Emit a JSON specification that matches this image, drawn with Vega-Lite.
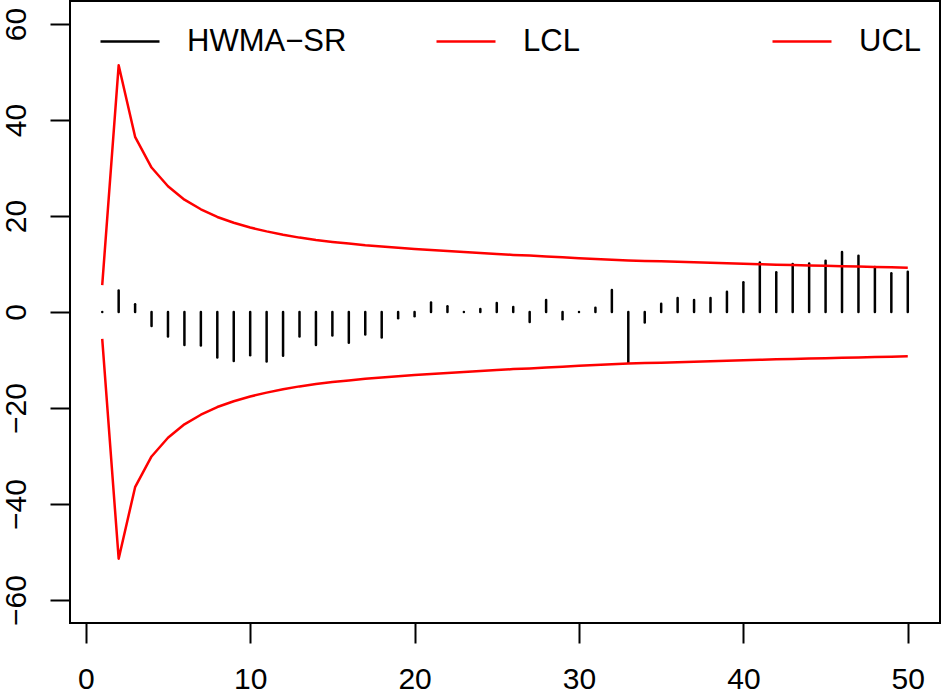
{
  "$schema": "https://vega.github.io/schema/vega-lite/v6.json",
  "width": 870,
  "height": 622,
  "autosize": "none",
  "padding": {"left": 70, "top": 1, "right": 2, "bottom": 71},
  "background": "white",
  "config": {
    "view": {"stroke": "black", "strokeWidth": 2},
    "font": "Liberation Sans",
    "axis": {
      "domain": false,
      "grid": false,
      "title": null,
      "tickColor": "black",
      "tickWidth": 2,
      "tickSize": 20,
      "labelColor": "black",
      "labelFont": "Liberation Sans",
      "labelFontSize": 30,
      "labelFlush": false,
      "labelOverlap": false
    },
    "legend": {
      "labelFont": "Liberation Sans",
      "labelFontSize": 31,
      "labelColor": "black",
      "labelLimit": 400
    }
  },
  "data": {
    "values": [
      {"t": 1, "hwma": 0, "lcl": -5.6, "ucl": 5.6},
      {"t": 2, "hwma": 4.5, "lcl": -51.4, "ucl": 51.4},
      {"t": 3, "hwma": 1.6, "lcl": -36.5, "ucl": 36.5},
      {"t": 4, "hwma": -2.9, "lcl": -30.1, "ucl": 30.1},
      {"t": 5, "hwma": -5.1, "lcl": -26.2, "ucl": 26.2},
      {"t": 6, "hwma": -6.9, "lcl": -23.4, "ucl": 23.4},
      {"t": 7, "hwma": -7.0, "lcl": -21.4, "ucl": 21.4},
      {"t": 8, "hwma": -9.5, "lcl": -19.8, "ucl": 19.8},
      {"t": 9, "hwma": -10.2, "lcl": -18.6, "ucl": 18.6},
      {"t": 10, "hwma": -9.0, "lcl": -17.6, "ucl": 17.6},
      {"t": 11, "hwma": -10.3, "lcl": -16.8, "ucl": 16.8},
      {"t": 12, "hwma": -9.1, "lcl": -16.1, "ucl": 16.1},
      {"t": 13, "hwma": -5.1, "lcl": -15.5, "ucl": 15.5},
      {"t": 14, "hwma": -6.9, "lcl": -15.0, "ucl": 15.0},
      {"t": 15, "hwma": -4.9, "lcl": -14.6, "ucl": 14.6},
      {"t": 16, "hwma": -6.4, "lcl": -14.25, "ucl": 14.25},
      {"t": 17, "hwma": -4.7, "lcl": -13.9, "ucl": 13.9},
      {"t": 18, "hwma": -5.3, "lcl": -13.65, "ucl": 13.65},
      {"t": 19, "hwma": -1.3, "lcl": -13.4, "ucl": 13.4},
      {"t": 20, "hwma": -0.9, "lcl": -13.15, "ucl": 13.15},
      {"t": 21, "hwma": 2.0, "lcl": -12.9, "ucl": 12.9},
      {"t": 22, "hwma": 1.2, "lcl": -12.7, "ucl": 12.7},
      {"t": 23, "hwma": 0, "lcl": -12.5, "ucl": 12.5},
      {"t": 24, "hwma": 0.6, "lcl": -12.3, "ucl": 12.3},
      {"t": 25, "hwma": 1.9, "lcl": -12.1, "ucl": 12.1},
      {"t": 26, "hwma": 1.05, "lcl": -11.9, "ucl": 11.9},
      {"t": 27, "hwma": -2.1, "lcl": -11.75, "ucl": 11.75},
      {"t": 28, "hwma": 2.5, "lcl": -11.55, "ucl": 11.55},
      {"t": 29, "hwma": -1.5, "lcl": -11.4, "ucl": 11.4},
      {"t": 30, "hwma": 0, "lcl": -11.2, "ucl": 11.2},
      {"t": 31, "hwma": 0.9, "lcl": -11.05, "ucl": 11.05},
      {"t": 32, "hwma": 4.6, "lcl": -10.9, "ucl": 10.9},
      {"t": 33, "hwma": -10.5, "lcl": -10.75, "ucl": 10.75},
      {"t": 34, "hwma": -2.2, "lcl": -10.65, "ucl": 10.65},
      {"t": 35, "hwma": 1.7, "lcl": -10.55, "ucl": 10.55},
      {"t": 36, "hwma": 2.9, "lcl": -10.45, "ucl": 10.45},
      {"t": 37, "hwma": 2.5, "lcl": -10.35, "ucl": 10.35},
      {"t": 38, "hwma": 2.9, "lcl": -10.25, "ucl": 10.25},
      {"t": 39, "hwma": 4.2, "lcl": -10.15, "ucl": 10.15},
      {"t": 40, "hwma": 6.2, "lcl": -10.05, "ucl": 10.05},
      {"t": 41, "hwma": 10.3, "lcl": -9.95, "ucl": 9.95},
      {"t": 42, "hwma": 8.3, "lcl": -9.87, "ucl": 9.87},
      {"t": 43, "hwma": 10.0, "lcl": -9.78, "ucl": 9.78},
      {"t": 44, "hwma": 10.1, "lcl": -9.7, "ucl": 9.7},
      {"t": 45, "hwma": 10.7, "lcl": -9.62, "ucl": 9.62},
      {"t": 46, "hwma": 12.5, "lcl": -9.54, "ucl": 9.54},
      {"t": 47, "hwma": 11.7, "lcl": -9.46, "ucl": 9.46},
      {"t": 48, "hwma": 9.4, "lcl": -9.38, "ucl": 9.38},
      {"t": 49, "hwma": 8.1, "lcl": -9.3, "ucl": 9.3},
      {"t": 50, "hwma": 8.4, "lcl": -9.22, "ucl": 9.22}
    ]
  },
  "transform": [
    {"fold": ["hwma", "lcl", "ucl"], "as": ["series", "value"]}
  ],
  "encoding": {
    "x": {
      "field": "t",
      "type": "quantitative",
      "scale": {"domain": [-0.96, 51.96], "nice": false, "zero": false},
      "axis": {"values": [0, 10, 20, 30, 40, 50], "labelPadding": 21}
    },
    "y": {
      "field": "value",
      "type": "quantitative",
      "scale": {"domain": [-64.8, 64.8], "nice": false},
      "axis": {
        "values": [-60, -40, -20, 0, 20, 40, 60],
        "labelAngle": 270,
        "labelAlign": "center",
        "labelBaseline": "alphabetic",
        "labelPadding": 25
      }
    },
    "color": {
      "field": "series",
      "type": "nominal",
      "scale": {"domain": ["hwma", "lcl", "ucl"], "range": ["black", "red", "red"]},
      "legend": {
        "title": null,
        "orient": "none",
        "legendX": 29,
        "legendY": 9.5,
        "direction": "horizontal",
        "columns": 3,
        "gridAlign": "all",
        "columnPadding": 84,
        "symbolType": "stroke",
        "symbolSize": 3481,
        "symbolStrokeWidth": 2.5,
        "labelOffset": 26,
        "padding": 0,
        "labelExpr": "datum.value == 'hwma' ? 'HWMA−SR' : upper(datum.value)"
      }
    }
  },
  "layer": [
    {
      "transform": [{"filter": "datum.series == 'hwma'"}],
      "mark": {"type": "rule", "strokeWidth": 2.5, "strokeCap": "round"},
      "encoding": {"y2": {"datum": 0}}
    },
    {
      "transform": [{"filter": "datum.series != 'hwma'"}],
      "mark": {"type": "line", "strokeWidth": 2.5, "strokeJoin": "round"},
      "encoding": {"detail": {"field": "series"}}
    }
  ]
}
